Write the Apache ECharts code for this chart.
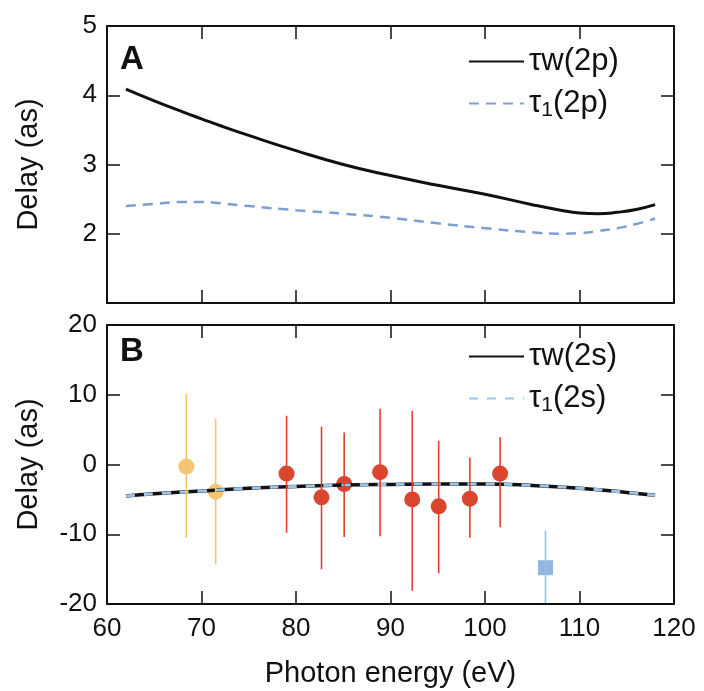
<!DOCTYPE html>
<html>
<head>
<meta charset="utf-8">
<script src="https://cdn.jsdelivr.net/npm/echarts@6/dist/echarts.min.js"></script>
<style>
  html, body { margin: 0; padding: 0; background: #fff; }
  #main { width: 704px; height: 691px; }
</style>
</head>
<body>
<div id="main"></div>
<script>
// panel A curves (2p)
var energyA = [62, 65, 68, 70, 72, 75, 80, 85, 90, 95, 100, 105, 108, 110, 112, 114, 116, 118];
var tauW2p = [4.09, 3.92, 3.76, 3.66, 3.56, 3.42, 3.20, 3.00, 2.84, 2.70, 2.57, 2.42, 2.34, 2.30, 2.29, 2.31, 2.35, 2.42];
var tau12p = [2.40, 2.43, 2.46, 2.46, 2.44, 2.40, 2.34, 2.29, 2.23, 2.15, 2.08, 2.02, 2.00, 2.01, 2.04, 2.08, 2.14, 2.22];

// panel B curves (2s)
var energyB = [62, 65, 70, 75, 80, 85, 90, 95, 100, 105, 110, 115, 118];
var tauW2s = [-4.5, -4.2, -3.8, -3.4, -3.15, -2.95, -2.85, -2.8, -2.8, -3.0, -3.4, -4.0, -4.4];
var tau12s = [-4.5, -4.2, -3.8, -3.4, -3.15, -2.95, -2.85, -2.8, -2.8, -3.0, -3.4, -4.0, -4.4];

// measured points with error bars
var yellowE = [68.4, 71.5];
var yellowD = [-0.3, -3.9];
var yellowLo = [-10.5, -14.3];
var yellowHi = [10.1, 6.6];

var redE = [79.0, 82.7, 85.1, 88.9, 92.3, 95.1, 98.4, 101.6];
var redD = [-1.3, -4.7, -2.8, -1.1, -5.0, -6.0, -4.9, -1.3];
var redLo = [-9.8, -15.0, -10.4, -10.3, -18.1, -15.6, -10.5, -9.0];
var redHi = [7.0, 5.4, 4.6, 8.0, 7.7, 3.4, 1.0, 3.9];

var blueE = [106.4];
var blueD = [-14.8];
var blueLo = [-20];
var blueHi = [-9.5];

var font = 'Liberation Sans, Arial, Helvetica, sans-serif';

function pairs(xs, ys) {
  return xs.map(function (x, i) { return [x, ys[i]]; });
}
// vertical error bars as one broken line per group
function barLine(xs, lo, hi) {
  var d = [];
  xs.forEach(function (x, i) { d.push([x, lo[i]], [x, hi[i]], '-'); });
  return d;
}
function errSeries(xs, lo, hi, color) {
  return { type: 'line', xAxisIndex: 2, yAxisIndex: 2, symbol: 'none', connectNulls: false,
           data: barLine(xs, lo, hi), lineStyle: { color: color, width: 1.6 } };
}

var dom = document.getElementById('main');
var myChart = echarts.init(dom);

function xAx(grid, pos, labels) {
  var ax = {
    type: 'value', gridIndex: grid, position: pos, min: 60, max: 120, interval: 10, z: 10,
    axisLine: { show: true, onZero: false, lineStyle: { color: '#111', width: 2 } },
    axisTick: { show: true, inside: true, length: 13, lineStyle: { color: '#111', width: 1.5 } },
    axisLabel: { show: labels, color: '#111', fontSize: 26, fontFamily: font, margin: 12 },
    splitLine: { show: false }
  };
  if (labels) {
    ax.name = 'Photon energy (eV)';
    ax.nameLocation = 'middle';
    ax.nameGap = 55;
    ax.nameTextStyle = { color: '#111', fontSize: 29, fontFamily: font };
  }
  return ax;
}
function yAx(grid, pos, min, max, interval, labels, fmt) {
  var ax = {
    type: 'value', gridIndex: grid, position: pos, min: min, max: max, interval: interval, z: 10,
    axisLine: { show: true, onZero: false, lineStyle: { color: '#111', width: 2 } },
    axisTick: { show: true, inside: true, length: 13, lineStyle: { color: '#111', width: 1.5 } },
    axisLabel: { show: labels, color: '#111', fontSize: 26, fontFamily: font, margin: 10 },
    splitLine: { show: false }
  };
  if (fmt) ax.axisLabel.formatter = fmt;
  if (labels) {
    ax.name = 'Delay (as)';
    ax.nameLocation = 'middle';
    ax.nameGap = 64;
    ax.nameTextStyle = { color: '#111', fontSize: 29, fontFamily: font };
  }
  return ax;
}

var legendRich = {
  a: { fontSize: 31, fontFamily: font, color: '#111', lineHeight: 34 },
  s: { fontSize: 21, fontFamily: font, color: '#111', lineHeight: 21, verticalAlign: 'bottom' }
};
function legendFmt(name) {
  var parts = name.split('|');
  return '{a|τ}{' + (parts[1] === 'w' ? 'a' : 's') + '|' + parts[1] + '}{a|' + parts[2] + '}';
}

var option = {
  backgroundColor: '#fff',
  animation: false,
  title: [
    { text: 'A', left: 115, top: 38, padding: 5, textStyle: { fontSize: 33, fontWeight: 'bold', fontFamily: font, color: '#111' } },
    { text: 'B', left: 115, top: 330, padding: 5, textStyle: { fontSize: 33, fontWeight: 'bold', fontFamily: font, color: '#111' } }
  ],
  grid: [
    { left: 107, top: 26, width: 567, height: 277 },
    { left: 107, top: 325, width: 567, height: 279 }
  ],
  legend: [
    { data: ['τ|w|(2p)', 'τ|1|(2p)'], orient: 'vertical', left: 468, top: 46, padding: 0,
      itemWidth: 55, itemHeight: 14, itemGap: 11, itemStyle: { opacity: 0 },
      formatter: legendFmt, textStyle: { rich: legendRich } },
    { data: ['τ|w|(2s)', 'τ|1|(2s)'], orient: 'vertical', left: 468, top: 341, padding: 0,
      itemWidth: 55, itemHeight: 14, itemGap: 11, itemStyle: { opacity: 0 },
      formatter: legendFmt, textStyle: { rich: legendRich } }
  ],
  xAxis: [xAx(0, 'bottom', false), xAx(0, 'top', false), xAx(1, 'bottom', true), xAx(1, 'top', false)],
  yAxis: [
    yAx(0, 'left', 1, 5, 1, true, function (v) { return v === 1 ? '' : String(v); }),
    yAx(0, 'right', 1, 5, 1, false),
    yAx(1, 'left', -20, 20, 10, true),
    yAx(1, 'right', -20, 20, 10, false)
  ],
  series: [
    { name: 'τ|w|(2p)', type: 'line', xAxisIndex: 0, yAxisIndex: 0, smooth: true, symbol: 'none',
      data: pairs(energyA, tauW2p), lineStyle: { color: '#111', width: 3 }, itemStyle: { color: '#111' } },
    { name: 'τ|1|(2p)', type: 'line', xAxisIndex: 0, yAxisIndex: 0, smooth: true, symbol: 'none',
      data: pairs(energyA, tau12p), lineStyle: { color: '#7f9fd3', width: 2.5, type: [10, 7] }, itemStyle: { color: '#7f9fd3' } },
    { name: 'τ|w|(2s)', type: 'line', xAxisIndex: 2, yAxisIndex: 2, smooth: true, symbol: 'none',
      data: pairs(energyB, tauW2s), lineStyle: { color: '#111', width: 3.5 }, itemStyle: { color: '#111' } },
    { name: 'τ|1|(2s)', type: 'line', xAxisIndex: 2, yAxisIndex: 2, smooth: true, symbol: 'none',
      data: pairs(energyB, tau12s), lineStyle: { color: '#9cc5e8', width: 3, type: [9, 9] }, itemStyle: { color: '#9cc5e8' } },
    errSeries(yellowE, yellowLo, yellowHi, '#f2c46e'),
    errSeries(redE, redLo, redHi, '#e0402e'),
    errSeries(blueE, blueLo, blueHi, '#9cc0e4'),
    { type: 'scatter', xAxisIndex: 2, yAxisIndex: 2, symbol: 'circle', symbolSize: 16,
      data: pairs(yellowE, yellowD), itemStyle: { color: '#f4c675', opacity: 1 } },
    { type: 'scatter', xAxisIndex: 2, yAxisIndex: 2, symbol: 'circle', symbolSize: 16,
      data: pairs(redE, redD), itemStyle: { color: '#d9472f', opacity: 1 } },
    { type: 'scatter', xAxisIndex: 2, yAxisIndex: 2, symbol: 'rect', symbolSize: 15,
      data: pairs(blueE, blueD), itemStyle: { color: '#8fb7e0', opacity: 1 } }
  ]
};

window.onresize = function () {
  myChart.resize();
};

if (option && typeof option === 'object') {
  myChart.setOption(option);
}
</script>
</body>
</html>
